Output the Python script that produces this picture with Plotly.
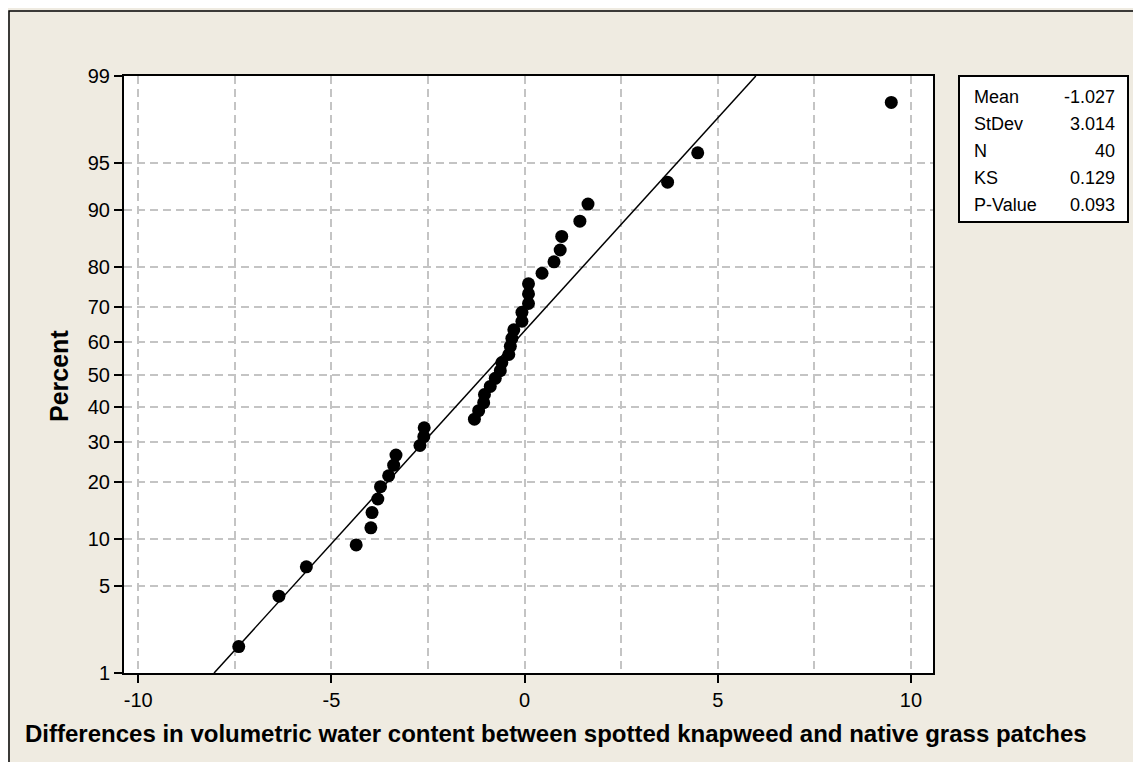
from statistics import NormalDist
import plotly.graph_objects as go

# sorted differences (x) and their plotting percentages (y)
diff_values = [-7.40, -6.36, -5.65, -4.36, -3.98, -3.95, -3.80, -3.73, -3.52, -3.39,
               -3.33, -2.71, -2.61, -2.60, -1.30, -1.19, -1.06, -1.04, -0.89, -0.76,
               -0.63, -0.59, -0.41, -0.37, -0.33, -0.28, -0.07, -0.07, 0.10, 0.10,
               0.10, 0.45, 0.76, 0.92, 0.96, 1.43, 1.64, 3.70, 4.48, 9.49]
percent_values = [1.7, 4.2, 6.7, 9.2, 11.6, 14.1, 16.6, 19.1, 21.5, 24.0,
                  26.5, 29.0, 31.4, 33.9, 36.4, 38.9, 41.3, 43.8, 46.3, 48.8,
                  51.2, 53.7, 56.2, 58.7, 61.1, 63.6, 66.1, 68.6, 71.0, 73.5,
                  76.0, 78.5, 81.0, 83.4, 85.9, 88.4, 90.8, 93.3, 95.8, 98.3]

percent_ticks = [1, 5, 10, 20, 30, 40, 50, 60, 70, 80, 90, 95, 99]
x_ticks = [-10, -5, 0, 5, 10]
x_minor = [-7.5, -2.5, 2.5, 7.5]

stat_labels = ["Mean", "StDev", "N", "KS", "P-Value"]
stat_values = ["-1.027", "3.014", "40", "0.129", "0.093"]
fit_mean = -1.027
fit_sd = 3.014

# the page body adds an 8px margin, so the figure is a bit smaller
# and every screen position below is shifted by OFF
OFF = 8
W, H = 1141 - 2 * OFF, 770 - 2 * OFF
L, R, T, B = 124, 933, 76, 673  # plot area, screen pixels

nd = NormalDist()
def z(p):
    return nd.inv_cdf(p / 100.0)

def px(x):
    return (x - L) / (R - L)

def py(y):
    return (B - y) / (B - T)

FONT = "Liberation Sans, Arial"

fig = go.Figure()

# fitted normal line
fit_p = [1, 99]
fig.add_trace(go.Scatter(x=[fit_mean + fit_sd * z(p) for p in fit_p],
                         y=[z(p) for p in fit_p],
                         mode="lines", line=dict(color="black", width=1.5),
                         hoverinfo="skip"))

fig.add_trace(go.Scatter(x=diff_values, y=[z(p) for p in percent_values],
                         mode="markers",
                         marker=dict(color="black", size=13),
                         customdata=percent_values,
                         hovertemplate="%{x:.2f}, %{customdata:.1f}%<extra></extra>"))

grid = dict(gridcolor="#C4C4C4", gridwidth=1.5, griddash="8px,5px")

fig.update_xaxes(range=[-10.37, 10.57], tickvals=x_ticks,
                 ticktext=[str(v) for v in x_ticks],
                 ticks="outside", ticklen=8, tickwidth=2, tickcolor="black",
                 showline=True, linecolor="black", linewidth=2, mirror=True,
                 zeroline=False, showgrid=True,
                 minor=dict(tickvals=x_minor, showgrid=True, ticks="", **grid),
                 tickfont=dict(family=FONT, size=20, color="black"),
                 **grid)
fig.update_yaxes(range=[z(1), z(99)], tickvals=[z(p) for p in percent_ticks],
                 ticktext=[str(p) for p in percent_ticks],
                 ticks="outside", ticklen=8, tickwidth=2, tickcolor="black",
                 showline=True, linecolor="black", linewidth=2, mirror=True,
                 zeroline=False, showgrid=True,
                 tickfont=dict(family=FONT, size=20, color="black"),
                 **grid)

shapes = [
    # outer frame (top and left edges show)
    dict(type="rect", xref="paper", yref="paper",
         x0=px(OFF + 1), x1=px(1200), y0=py(820), y1=py(11),
         line=dict(color="black", width=1.5), layer="below"),
    # stats box
    dict(type="rect", xref="paper", yref="paper",
         x0=px(959), x1=px(1128), y0=py(222), y1=py(76),
         line=dict(color="black", width=2), fillcolor="white"),
]

annotations = []
row_y = [97, 124, 151, 178, 205]
for lab, val, ry in zip(stat_labels, stat_values, row_y):
    annotations.append(dict(xref="paper", yref="paper", x=px(972), y=py(ry),
                            text=lab, showarrow=False, xanchor="left", yanchor="middle",
                            font=dict(family=FONT, size=18, color="black")))
    annotations.append(dict(xref="paper", yref="paper", x=px(1117), y=py(ry),
                            text=val, showarrow=False, xanchor="right", yanchor="middle",
                            font=dict(family=FONT, size=18, color="black")))

annotations.append(dict(xref="paper", yref="paper", x=px(59), y=py(376),
                        text="<b>Percent</b>", textangle=-90, showarrow=False,
                        xanchor="center", yanchor="middle",
                        font=dict(family=FONT, size=25, color="black")))
annotations.append(dict(xref="paper", yref="paper", x=px(23), y=py(733),
                        text="<b>Differences in volumetric water content between spotted knapweed and native grass patches</b>",
                        showarrow=False, xanchor="left", yanchor="middle",
                        font=dict(family=FONT, size=24, color="black")))

fig.update_layout(width=W, height=H, autosize=False,
                  margin=dict(l=L - OFF, r=W - (R - OFF), t=T - OFF, b=H - (B - OFF)),
                  paper_bgcolor="#EFEBE1", plot_bgcolor="white",
                  showlegend=False, shapes=shapes, annotations=annotations)

fig.write_html("out.html")
